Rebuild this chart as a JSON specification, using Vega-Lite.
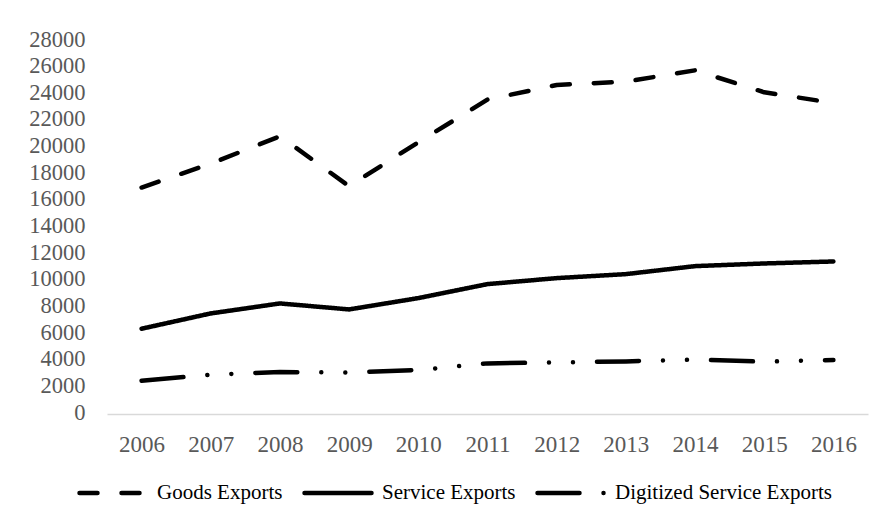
{
  "$schema": "https://vega.github.io/schema/vega-lite/v6.json",
  "autosize": "none",
  "width": 761,
  "height": 373,
  "padding": {"left": 107, "top": 41, "right": 16, "bottom": 109},
  "background": "white",
  "config": {
    "view": {"stroke": null},
    "font": "Liberation Serif"
  },
  "data": {
    "values": [
      {"year": "2006", "series": "Goods Exports", "value": 17000},
      {"year": "2007", "series": "Goods Exports", "value": 18800},
      {"year": "2008", "series": "Goods Exports", "value": 20850},
      {"year": "2009", "series": "Goods Exports", "value": 17100},
      {"year": "2010", "series": "Goods Exports", "value": 20400},
      {"year": "2011", "series": "Goods Exports", "value": 23600},
      {"year": "2012", "series": "Goods Exports", "value": 24700},
      {"year": "2013", "series": "Goods Exports", "value": 24950},
      {"year": "2014", "series": "Goods Exports", "value": 25800},
      {"year": "2015", "series": "Goods Exports", "value": 24150},
      {"year": "2016", "series": "Goods Exports", "value": 23350},
      {"year": "2006", "series": "Service Exports", "value": 6400},
      {"year": "2007", "series": "Service Exports", "value": 7550},
      {"year": "2008", "series": "Service Exports", "value": 8300},
      {"year": "2009", "series": "Service Exports", "value": 7850},
      {"year": "2010", "series": "Service Exports", "value": 8700},
      {"year": "2011", "series": "Service Exports", "value": 9750},
      {"year": "2012", "series": "Service Exports", "value": 10200},
      {"year": "2013", "series": "Service Exports", "value": 10500},
      {"year": "2014", "series": "Service Exports", "value": 11100},
      {"year": "2015", "series": "Service Exports", "value": 11300},
      {"year": "2016", "series": "Service Exports", "value": 11450},
      {"year": "2006", "series": "Digitized Service Exports", "value": 2500},
      {"year": "2007", "series": "Digitized Service Exports", "value": 2950},
      {"year": "2008", "series": "Digitized Service Exports", "value": 3150},
      {"year": "2009", "series": "Digitized Service Exports", "value": 3120},
      {"year": "2010", "series": "Digitized Service Exports", "value": 3300},
      {"year": "2011", "series": "Digitized Service Exports", "value": 3800},
      {"year": "2012", "series": "Digitized Service Exports", "value": 3870},
      {"year": "2013", "series": "Digitized Service Exports", "value": 3950},
      {"year": "2014", "series": "Digitized Service Exports", "value": 4080},
      {"year": "2015", "series": "Digitized Service Exports", "value": 3930},
      {"year": "2016", "series": "Digitized Service Exports", "value": 4050}
    ]
  },
  "mark": {"type": "line", "strokeWidth": 4.5, "strokeCap": "round", "strokeJoin": "round", "color": "black"},
  "encoding": {
    "x": {
      "field": "year",
      "type": "ordinal",
      "scale": {"type": "point", "padding": 0.5},
      "axis": {
        "title": null,
        "labelAngle": 0,
        "ticks": false,
        "domainColor": "#d9d9d9",
        "domainWidth": 1.5,
        "labelFont": "Liberation Serif",
        "labelFontSize": 23,
        "labelColor": "#595959",
        "labelPadding": 19
      }
    },
    "y": {
      "field": "value",
      "type": "quantitative",
      "scale": {"domain": [0, 28000], "nice": false},
      "axis": {
        "title": null,
        "values": [0, 2000, 4000, 6000, 8000, 10000, 12000, 14000, 16000, 18000, 20000, 22000, 24000, 26000, 28000],
        "format": "d",
        "grid": false,
        "domain": false,
        "ticks": false,
        "labelFont": "Liberation Serif",
        "labelFontSize": 22.5,
        "labelColor": "#595959",
        "labelPadding": 22,
        "labelOffset": -2
      }
    },
    "strokeDash": {
      "field": "series",
      "type": "nominal",
      "sort": ["Goods Exports", "Service Exports", "Digitized Service Exports"],
      "scale": {
        "domain": ["Goods Exports", "Service Exports", "Digitized Service Exports"],
        "range": [[18, 24], [1, 0], [42, 24, 0.01, 24, 0.01, 24]]
      },
      "legend": {
        "title": null,
        "orient": "none",
        "direction": "horizontal",
        "legendX": -30,
        "legendY": 416,
        "symbolType": "stroke",
        "symbolSize": 4489,
        "symbolStrokeWidth": 4.5,
        "symbolStrokeColor": "black",
        "labelFont": "Liberation Serif",
        "labelFontSize": 21,
        "labelColor": "black",
        "labelOffset": 8,
        "columnPadding": 12,
        "labelLimit": 400,
        "encode": {
          "symbols": {
            "update": {
              "strokeCap": {"value": "round"}
            }
          }
        }
      }
    }
  }
}
